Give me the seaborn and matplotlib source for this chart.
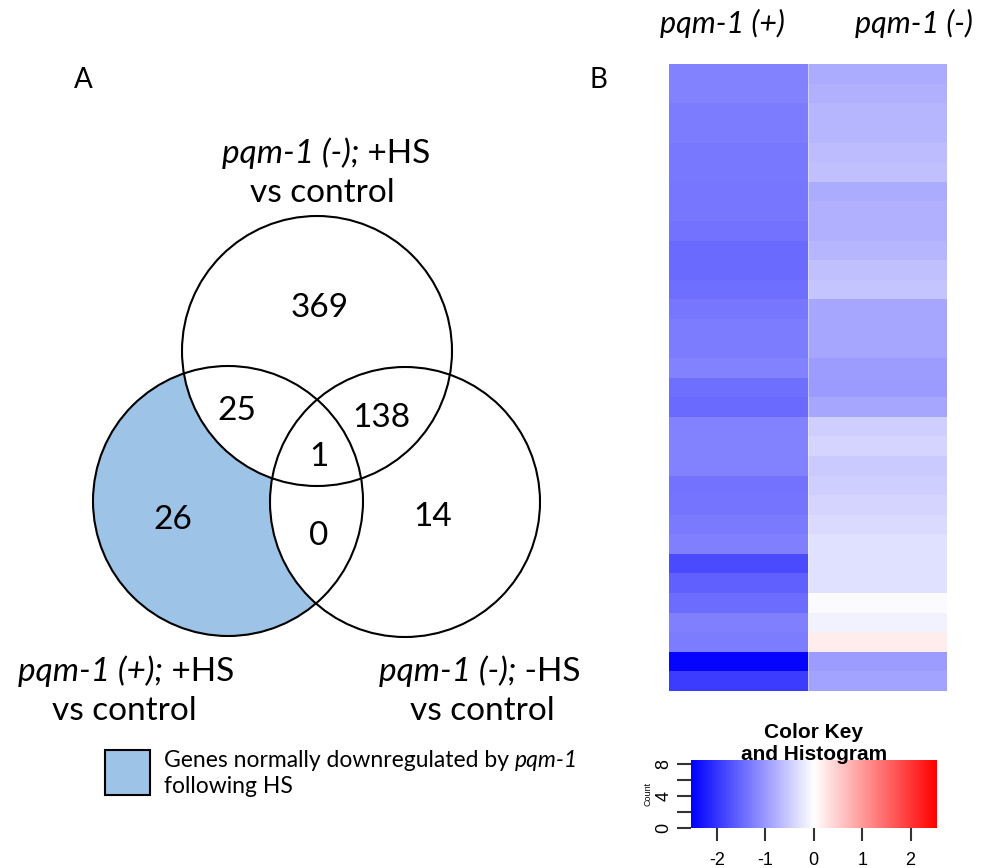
import numpy as np
import pandas as pd
import matplotlib
matplotlib.use("Agg")
import matplotlib.pyplot as plt
from matplotlib.patches import Circle, Rectangle
from matplotlib.colors import LinearSegmentedColormap
import seaborn as sns

# ---------------- data ----------------
venn_counts = {"top_only": 369, "top_left": 25, "top_right": 138, "all": 1,
               "left_only": 26, "left_right": 0, "right_only": 14}
set_labels = ["pqm-1 (-); +HS", "pqm-1 (+); +HS", "pqm-1 (-); -HS"]
legend_text = "Genes normally downregulated by pqm-1 following HS"

heat_columns = ["pqm-1 (+)", "pqm-1 (-)"]
pqm_plus = [-1.25, -1.25, -1.29, -1.29, -1.33, -1.33, -1.35, -1.35, -1.40, -1.48,
            -1.48, -1.44, -1.35, -1.29, -1.29, -1.25, -1.44, -1.48, -1.25, -1.25,
            -1.25, -1.40, -1.37, -1.31, -1.26, -1.79, -1.57, -1.46, -1.27, -1.30,
            -2.50, -1.93]
pqm_minus = [-0.83, -0.78, -0.73, -0.73, -0.67, -0.62, -0.83, -0.78, -0.78, -0.73,
             -0.62, -0.59, -0.88, -0.88, -0.88, -0.99, -1.01, -0.88, -0.49, -0.43,
             -0.52, -0.49, -0.43, -0.36, -0.30, -0.30, -0.30, -0.05, -0.12, 0.18,
             -0.99, -0.93]
key_ticks = [-2, -1, 0, 1, 2]
count_ticks = [0, 2, 4, 6, 8]
count_labels = ["0", "", "4", "", "8"]

# ---------------- figure ----------------
sns.set_theme(style="white")
plt.rcParams["font.family"] = ["Lato", "DejaVu Sans"]
plt.rcParams["text.color"] = "black"
plt.rcParams["xtick.color"] = "black"
plt.rcParams["ytick.color"] = "black"
plt.rcParams["axes.labelcolor"] = "black"
W, H = 993, 868
fig = plt.figure(figsize=(W / 100, H / 100), dpi=100)

# full-figure axes in pixel coordinates for the Venn panel
ax = fig.add_axes([0, 0, 1, 1])
ax.set_xlim(0, W)
ax.set_ylim(H, 0)
ax.axis("off")

blue = "#9DC3E6"
R = 135
c_top, c_left, c_right = (317, 351), (228, 501), (405, 502)
ax.add_patch(Circle(c_left, R, facecolor=blue, edgecolor="none", zorder=1))
ax.add_patch(Circle(c_top, R, facecolor="white", edgecolor="none", zorder=2))
ax.add_patch(Circle(c_right, R, facecolor="white", edgecolor="none", zorder=2))
for c in (c_top, c_left, c_right):
    ax.add_patch(Circle(c, R, facecolor="none", edgecolor="black", lw=1.5, zorder=3))

num_pos = {"top_only": (320, 308), "top_left": (237, 411), "top_right": (381, 418),
           "all": (319, 457), "left_only": (173, 520), "left_right": (319, 536),
           "right_only": (433, 517)}
for k, v in venn_counts.items():
    x, y = num_pos[k]
    ax.text(x, y, str(v), ha="center", va="center", fontsize=24, zorder=4)

renderer = fig.canvas.get_renderer()


def mixed(xc, yb, italic_part, normal_part, size):
    t1 = ax.text(0, yb, italic_part, style="italic", fontsize=size, ha="left", va="baseline")
    t2 = ax.text(0, yb, normal_part, fontsize=size, ha="left", va="baseline")
    w1 = t1.get_window_extent(renderer).width
    w2 = t2.get_window_extent(renderer).width
    x0 = xc - (w1 + w2) / 2
    t1.set_x(x0)
    t2.set_x(x0 + w1)


def split(lbl):
    i = lbl.index(";") + 1
    return lbl[:i], lbl[i:]


fs = 24
a, b = split(set_labels[0]); mixed(326, 163, a, b, fs)
ax.text(322, 202, "vs control", ha="center", va="baseline", fontsize=fs)
a, b = split(set_labels[1]); mixed(126, 681, a, b, fs)
ax.text(124, 720, "vs control", ha="center", va="baseline", fontsize=fs)
a, b = split(set_labels[2]); mixed(480, 681, a, b, fs)
ax.text(482, 720, "vs control", ha="center", va="baseline", fontsize=fs)

ax.text(83, 80, "A", ha="center", va="center", fontsize=20)
ax.text(598, 80, "B", ha="center", va="center", fontsize=20)

# legend box
ax.add_patch(Rectangle((105, 750), 45, 45, facecolor=blue, edgecolor="black", lw=1.5))
l1, l2 = legend_text.split(" following ")
pre, it = l1.rsplit(" ", 1)
t = ax.text(164, 767, pre + " ", fontsize=16.5, ha="left", va="baseline")
w = t.get_window_extent(renderer).width
ax.text(164 + w, 767, it, fontsize=16.5, style="italic", ha="left", va="baseline")
ax.text(164, 793, "following " + l2, fontsize=16.5, ha="left", va="baseline")

# ---------------- heatmap ----------------
cmap = LinearSegmentedColormap.from_list("bwr_r", ["#0000FF", "#FFFFFF", "#FF0000"])
vlim = 2.54
df = pd.DataFrame({heat_columns[0]: pqm_plus, heat_columns[1]: pqm_minus})
hx0, hx1, hy0, hy1 = 669.3, 946.7, 64.3, 691.0
axh = fig.add_axes([hx0 / W, 1 - hy1 / H, (hx1 - hx0) / W, (hy1 - hy0) / H])
sns.heatmap(df, ax=axh, cmap=cmap, vmin=-vlim, vmax=vlim, cbar=False,
            xticklabels=False, yticklabels=False)
axh.set_xlabel(""); axh.set_ylabel("")
axh.axvline(1, color="white", lw=0.6, alpha=0.5)

ax.text(722, 33, heat_columns[0], style="italic", fontsize=22, ha="center", va="baseline")
ax.text(914, 33, heat_columns[1], style="italic", fontsize=22, ha="center", va="baseline")

# ---------------- color key ----------------
kx0, kx1, ky0, ky1 = 690.7, 936.7, 760.0, 828.0
axk = fig.add_axes([kx0 / W, 1 - ky1 / H, (kx1 - kx0) / W, (ky1 - ky0) / H])
grad = np.linspace(-vlim, vlim, 256)[None, :]
axk.imshow(grad, cmap=cmap, vmin=-vlim, vmax=vlim, aspect="auto",
           extent=[-vlim, vlim, 0, 8.5], interpolation="bilinear")
axk.set_xlim(-vlim, vlim)
axk.set_ylim(0, 8.5)
for s in axk.spines.values():
    s.set_visible(False)
axk.set_xticks(key_ticks)
axk.set_xticklabels([str(k) for k in key_ticks], fontsize=13, family="Liberation Sans")
axk.set_yticks(count_ticks)
axk.set_yticklabels(count_labels, fontsize=13, rotation=90, va="center",
                    family="Liberation Sans")
axk.tick_params(axis="x", direction="out", length=9, width=1.5, color="#333333", pad=8)
axk.tick_params(axis="y", direction="out", length=10, width=1.5, color="#333333", pad=3)
axk.tick_params(bottom=True, left=True)
axk.set_ylabel("Count", fontsize=6.5, family="Liberation Sans", labelpad=2)
axk.text(0.5, 1.0 + 28 / 68, "Color Key", transform=axk.transAxes, ha="center",
         va="center", fontsize=15, fontweight="bold", family="Liberation Sans")
axk.text(0.5, 1.0 + 6 / 68, "and Histogram", transform=axk.transAxes, ha="center",
         va="center", fontsize=15, fontweight="bold", family="Liberation Sans")

fig.savefig("out.png", dpi=100)
